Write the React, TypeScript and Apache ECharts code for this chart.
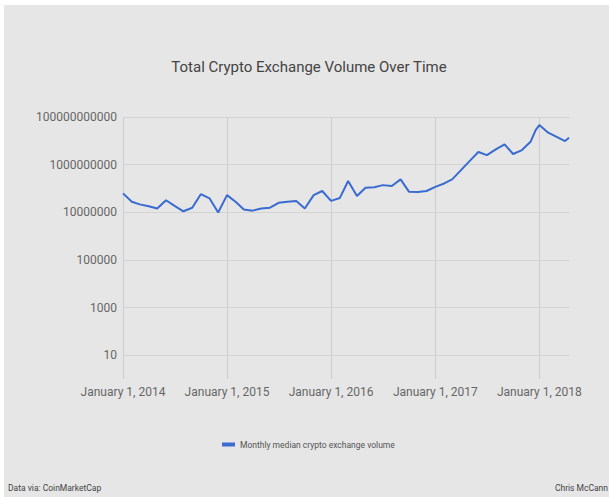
import React, { useEffect, useRef } from "react";
import * as echarts from "echarts";

const titleText = "Total Crypto Exchange Volume Over Time";
const seriesName = "Monthly median crypto exchange volume";
const sourceText = "Data via: CoinMarketCap";
const authorText = "Chris McCann";

const yearTicks = ["2014-01-01", "2015-01-01", "2016-01-01", "2017-01-01", "2018-01-01"];

const dates = [
  "2014-01-01", "2014-02-01", "2014-03-01", "2014-04-01", "2014-05-01", "2014-06-01",
  "2014-07-01", "2014-08-01", "2014-09-01", "2014-10-01", "2014-11-01", "2014-12-01",
  "2015-01-01", "2015-02-01", "2015-03-01", "2015-04-01", "2015-05-01", "2015-06-01",
  "2015-07-01", "2015-08-01", "2015-09-01", "2015-10-01", "2015-11-01", "2015-12-01",
  "2016-01-01", "2016-02-01", "2016-03-01", "2016-04-01", "2016-05-01", "2016-06-01",
  "2016-07-01", "2016-08-01", "2016-09-01", "2016-10-01", "2016-11-01", "2016-12-01",
  "2017-01-01", "2017-02-01", "2017-03-01", "2017-04-01", "2017-05-01", "2017-06-01",
  "2017-07-01", "2017-08-01", "2017-09-01", "2017-10-01", "2017-11-01", "2017-12-01",
  "2017-12-19",
  "2018-01-01", "2018-02-01", "2018-03-01", "2018-04-01", "2018-04-15",
];

const volumes = [
  6.2e7, 2.75e7, 2.15e7, 1.8e7, 1.45e7, 3.2e7, 1.85e7, 1.1e7, 1.55e7, 5.75e7, 3.8e7, 9.8e6,
  5.25e7, 2.7e7, 1.3e7, 1.17e7, 1.45e7, 1.55e7, 2.5e7, 2.75e7, 2.95e7, 1.45e7, 5.25e7, 7.8e7,
  3.0e7, 4.0e7, 2.05e8, 4.8e7, 1.07e8, 1.12e8, 1.38e8, 1.26e8, 2.4e8, 7.2e7, 7.1e7, 7.8e7,
  1.17e8, 1.62e8, 2.4e8, 5.9e8, 1.4e9, 3.4e9, 2.5e9, 4.4e9, 7.1e9, 2.8e9, 4.1e9, 9.1e9,
  2.8e10,
  4.6e10, 2.2e10, 1.5e10, 9.8e9, 1.35e10,
];

const FONT = "Roboto, 'Noto Sans', Arial, sans-serif";

const toTs = (s: string) => new Date(s + "T00:00:00Z").getTime();

export default function App() {
  const ref = useRef<HTMLDivElement>(null);

  useEffect(() => {
    if (!ref.current) return;
    const chart = echarts.init(ref.current, null, { renderer: "svg" });
    const data = dates.map((d, i) => [toTs(d), volumes[i]]);
    const yearTs = yearTicks.map(toTs);
    chart.setOption({
      animation: false,
      backgroundColor: "transparent",
      textStyle: { fontFamily: FONT },
      title: {
        text: titleText,
        left: 305,
        textAlign: "center",
        top: 54,
        padding: 0,
        textStyle: { fontFamily: FONT, fontSize: 15, fontWeight: "normal", color: "#444" },
      },
      legend: {
        left: 218,
        top: 435,
        padding: 0,
        icon: "rect",
        itemWidth: 13,
        itemHeight: 4,
        itemGap: 10,
        textStyle: { fontFamily: FONT, fontSize: 8.5, color: "#555" },
        data: [seriesName],
      },
      grid: { left: 119, right: 40, top: 112, bottom: 118, containLabel: false },
      xAxis: {
        type: "value",
        min: toTs(dates[0]),
        max: toTs(dates[dates.length - 1]),
        axisLine: { show: false },
        axisTick: { show: false, customValues: yearTs },
        axisLabel: {
          customValues: yearTs,
          margin: 7,
          fontFamily: FONT,
          fontSize: 12,
          color: "#666",
          formatter: (v: number) => `January 1, ${new Date(v).getUTCFullYear()}`,
        },
        splitLine: { show: true, lineStyle: { color: "#cdcdcd", width: 1 } },
      },
      yAxis: {
        type: "log",
        logBase: 10,
        min: 1,
        max: 1e11,
        splitNumber: 11,
        interval: 1,
        axisLine: { show: false },
        axisTick: { show: false },
        axisLabel: {
          margin: 6,
          fontFamily: FONT,
          fontSize: 12,
          color: "#666",
          formatter: (v: number) => {
            const e = Math.round(Math.log10(v));
            if (e % 2 === 0) return "";
            return "1" + "0".repeat(e);
          },
        },
        splitLine: {
          show: true,
          lineStyle: { color: ["rgba(0,0,0,0)", "#d3d3d3"], width: 1 },
        },
      },
      graphic: [
        {
          type: "text",
          left: 4,
          top: 478,
          style: { text: sourceText, fontFamily: FONT, fontSize: 8.5, fill: "#444" },
        },
        {
          type: "text",
          right: 1,
          top: 478,
          style: { text: authorText, fontFamily: FONT, fontSize: 8.5, fill: "#444" },
        },
      ],
      series: [
        {
          name: seriesName,
          type: "line",
          data,
          showSymbol: false,
          symbol: "none",
          lineStyle: { color: "#3a6bd1", width: 2 },
          itemStyle: { color: "#3a6bd1" },
        },
      ],
    });
    return () => chart.dispose();
  }, []);

  return (
    <div style={{ position: "fixed", left: 0, top: 0, width: 609, height: 497, background: "#fff" }}>
      <div
        ref={ref}
        style={{ position: "absolute", left: 4, top: 5, width: 605, height: 492, background: "#e6e6e6" }}
      />
    </div>
  );
}
